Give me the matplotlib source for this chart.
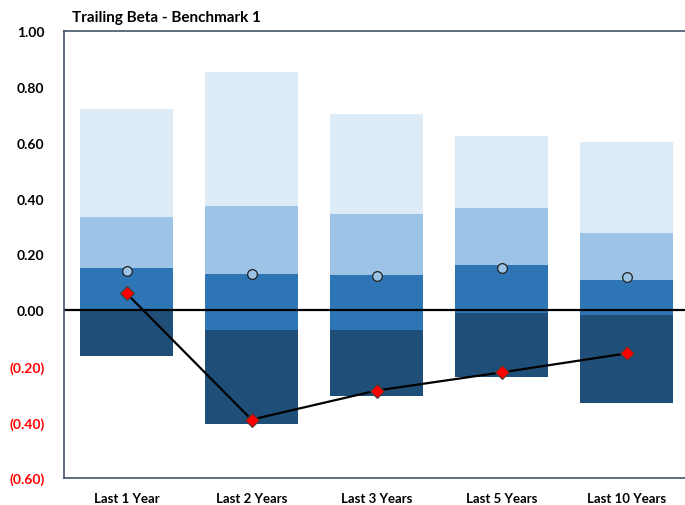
import matplotlib.pyplot as plt
import numpy as np

plt.rcParams['font.family'] = ['Lato', 'DejaVu Sans']

categories = ['Last 1 Year', 'Last 2 Years', 'Last 3 Years', 'Last 5 Years', 'Last 10 Years']
pct05 = [-0.165, -0.405, -0.305, -0.240, -0.330]
pct25 = [-0.002, -0.072, -0.072, -0.011, -0.018]
median = [0.151, 0.129, 0.125, 0.161, 0.108]
pct75 = [0.333, 0.373, 0.344, 0.366, 0.276]
pct95 = [0.722, 0.855, 0.704, 0.625, 0.604]
benchmark = [0.140, 0.129, 0.122, 0.151, 0.118]
portfolio = [0.061, -0.391, -0.287, -0.222, -0.154]
yticks = [-0.6, -0.4, -0.2, 0.0, 0.2, 0.4, 0.6, 0.8, 1.0]

colors = ['#1F4E79', '#2E75B6', '#9DC3E6', '#DDEBF7']

fig = plt.figure(figsize=(6.85, 5.06), dpi=100)
ax = fig.add_axes([64 / 685, 27 / 506, 625 / 685, 447 / 506])

x = np.arange(len(categories))
w = 0.74
bands = [(pct05, pct25), (pct25, median), (median, pct75), (pct75, pct95)]
for (lo, hi), c in zip(bands, colors):
    lo = np.array(lo)
    hi = np.array(hi)
    ax.bar(x, hi - lo, bottom=lo, width=w, color=c, zorder=1)

ax.axhline(0, color='black', lw=1.6, zorder=2)
ax.plot(x, portfolio, color='black', lw=1.6, marker='D', ms=7,
        mfc='#FF0000', mec='#404040', mew=0.8, zorder=4)
ax.plot(x, benchmark, ls='none', marker='o', ms=7,
        mfc='#9DC3E6', mec='#202020', mew=0.9, zorder=4)

ax.set_xlim(-0.5, 4.5)
ax.set_ylim(-0.6, 1.0)
ax.set_yticks(yticks)
labels = []
for v in yticks:
    labels.append('(%.2f)' % abs(v) if v < 0 else '%.2f' % v)
ax.set_yticklabels(labels, fontsize=10, fontweight='bold')
for t, v in zip(ax.get_yticklabels(), yticks):
    t.set_color('#FF0000' if v < 0 else 'black')
ax.set_xticks(x)
ax.set_xticklabels(categories, fontsize=9.5, fontweight='bold')
ax.tick_params(length=0, axis='y', pad=14)
ax.tick_params(length=0, axis='x', pad=10)
for s in ax.spines.values():
    s.set_color('#44546A')
    s.set_linewidth(1.2)
ax.spines['right'].set_visible(False)

fig.text(72 / 685, 1 - 18 / 506, 'Trailing Beta - Benchmark 1', fontsize=11,
         fontweight='bold', va='center', ha='left')

fig.savefig('out.png', dpi=100)
